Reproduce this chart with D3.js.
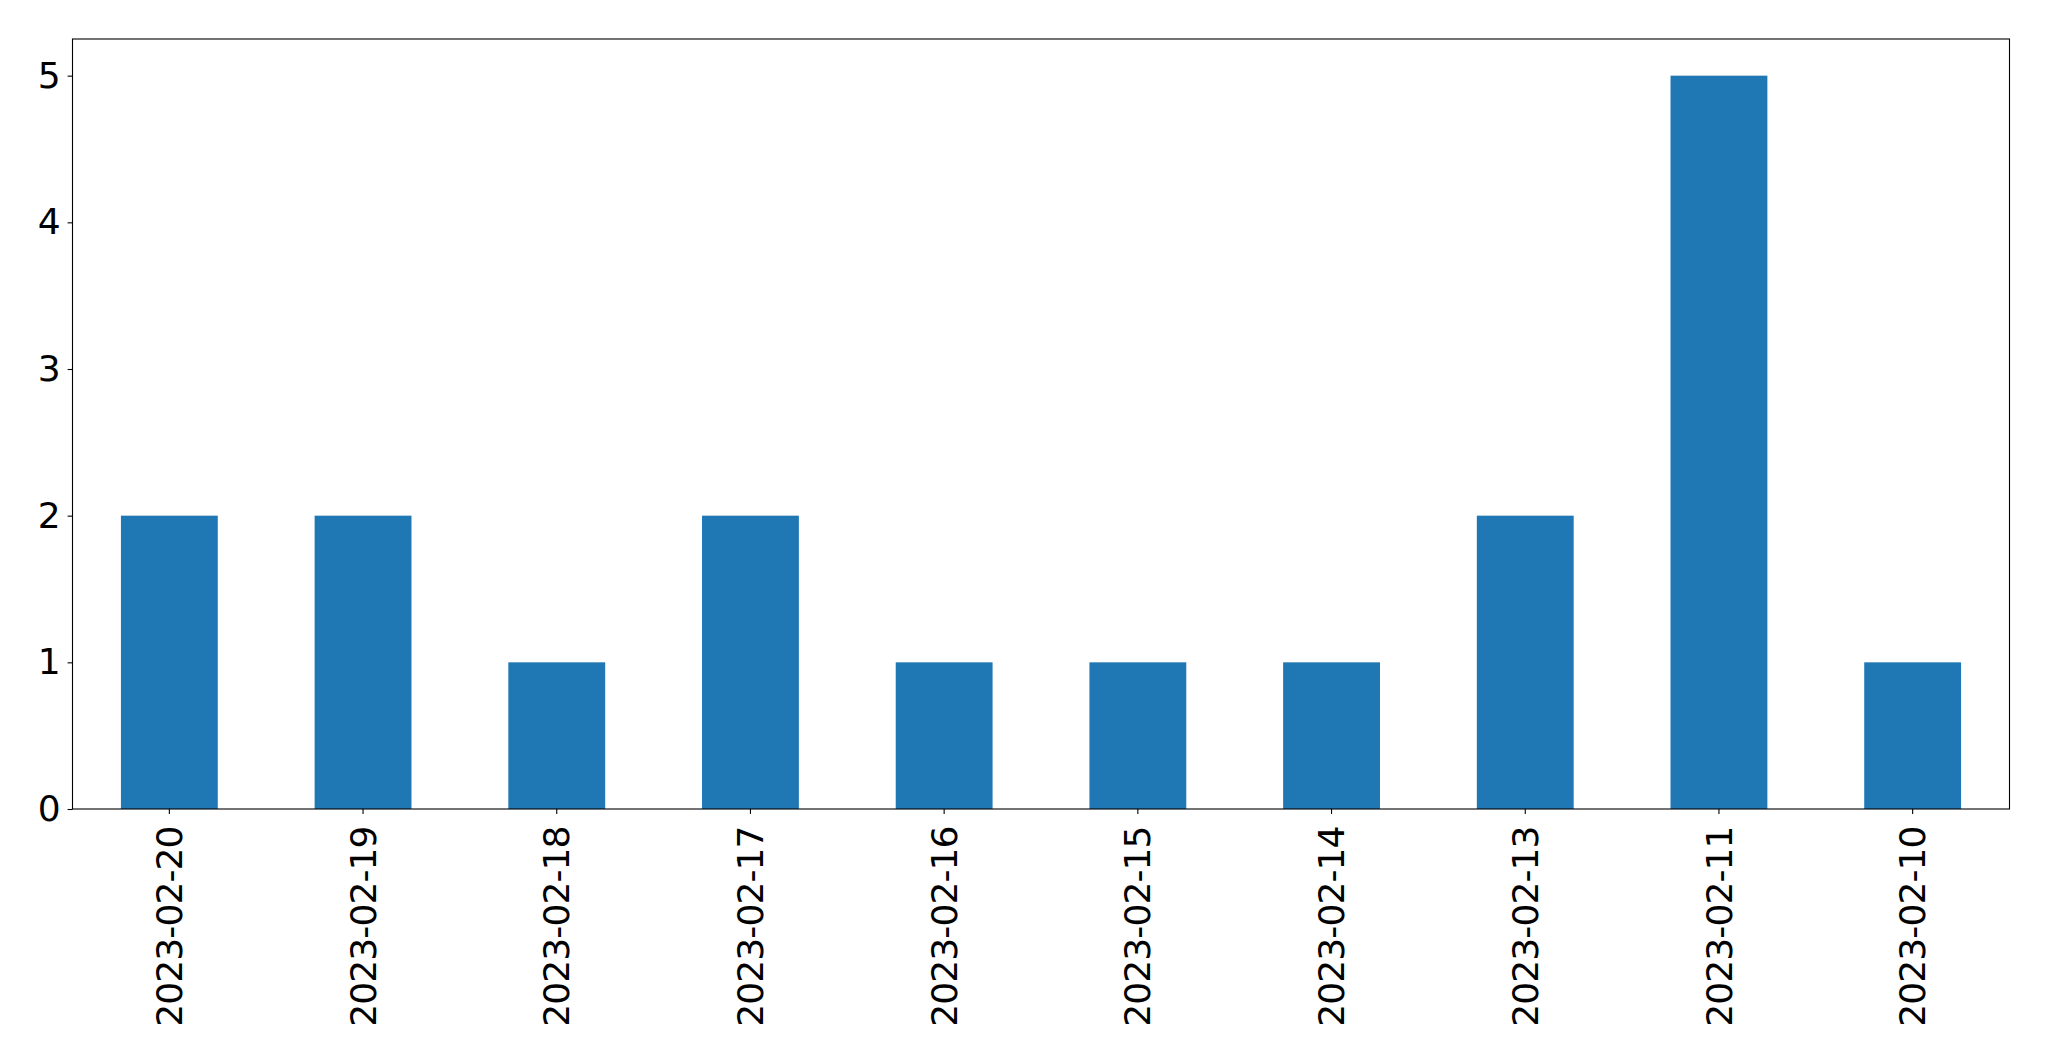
<!DOCTYPE html>
<html><head><meta charset="utf-8">
<script src="https://cdn.jsdelivr.net/npm/d3@7"></script>
<style>body{margin:0;background:#fff;} text{font-family:"DejaVu Sans",sans-serif;}</style>
</head><body>
<script>
const categories = ["2023-02-20","2023-02-19","2023-02-18","2023-02-17","2023-02-16","2023-02-15","2023-02-14","2023-02-13","2023-02-11","2023-02-10"];
const values = [2,2,1,2,1,1,1,2,5,1];
const yTicks = [0,1,2,3,4,5];

const W = 2049, H = 1061;
const mLeft = 72.5, mRight = 2009.5, mTop = 39, mBottom = 809;
const svg = d3.select("body").append("svg").attr("width", W).attr("height", H);

const x = d3.scaleBand().domain(categories).range([mLeft, mRight]).paddingInner(0.5).paddingOuter(0.25);
const y = d3.scaleLinear().domain([0, 5.25]).range([mBottom, mTop]);

svg.append("g").selectAll("rect").data(values).join("rect")
  .attr("x", (d,i) => x(categories[i]))
  .attr("width", x.bandwidth())
  .attr("y", d => y(d))
  .attr("height", d => y(0) - y(d))
  .attr("fill", "#1f77b4");

const fs = "36px";
const yAxis = svg.append("g").attr("transform", `translate(${mLeft},0)`)
  .call(d3.axisLeft(y).tickValues(yTicks).tickFormat(d3.format("d")).tickSize(4.9).tickPadding(7));
yAxis.select(".domain").remove();
yAxis.selectAll("text").attr("font-size", fs).attr("fill", "#000").attr("font-family", "DejaVu Sans");
yAxis.selectAll("line").attr("stroke", "#000").attr("stroke-width", 1.1);

const xAxis = svg.append("g").attr("transform", `translate(0,${mBottom})`)
  .call(d3.axisBottom(x).tickSize(4.9).tickPadding(0));
xAxis.select(".domain").remove();
xAxis.selectAll("line").attr("stroke", "#000").attr("stroke-width", 1.1);
xAxis.selectAll("text")
  .attr("font-size", fs).attr("fill", "#000").attr("font-family", "DejaVu Sans")
  .attr("letter-spacing", "-0.9px")
  .attr("text-anchor", "end")
  .attr("transform", "translate(0,17.5) rotate(-90)")
  .attr("x", 0).attr("y", 0).attr("dy", "0.35em");

svg.append("rect").attr("x", mLeft).attr("y", mTop).attr("width", mRight-mLeft).attr("height", mBottom-mTop)
  .attr("fill", "none").attr("stroke", "#000").attr("stroke-width", 1.1);
</script>
</body></html>
